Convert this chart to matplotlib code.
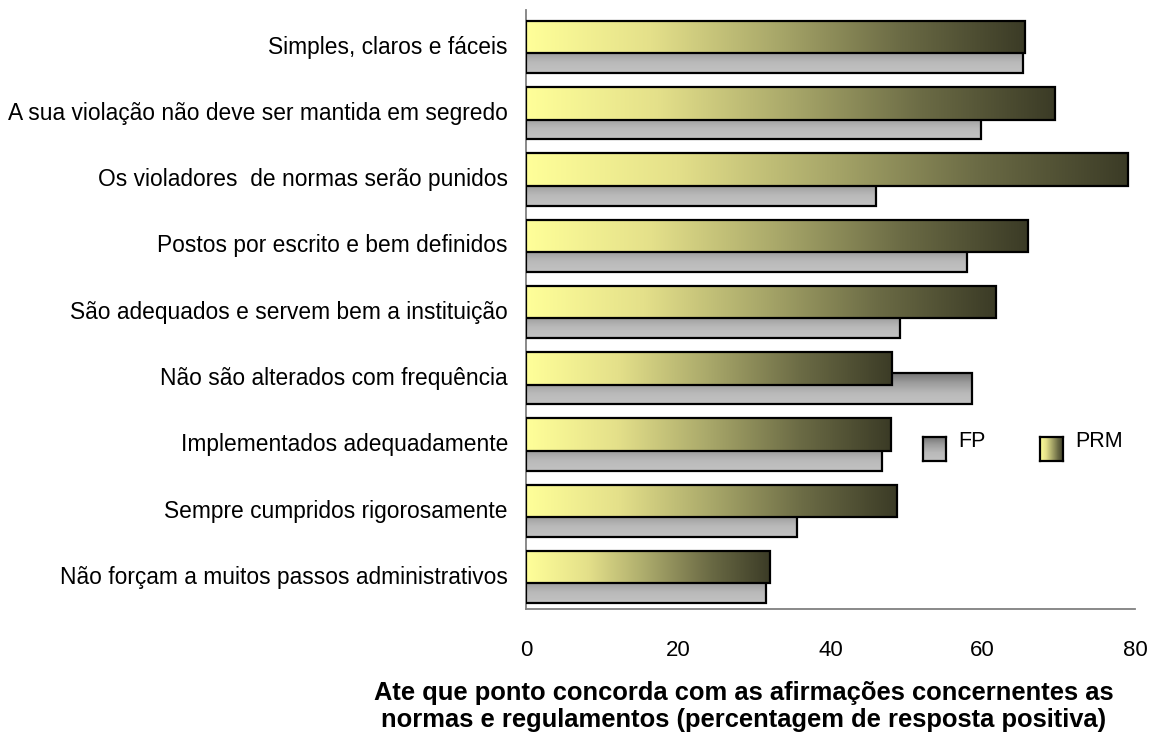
import matplotlib.pyplot as plt
import numpy as np
from matplotlib.colors import LinearSegmentedColormap

plt.rcParams['font.family'] = ['Liberation Sans', 'DejaVu Sans']

categories = [
    "Simples, claros e fáceis",
    "A sua violação não deve ser mantida em segredo",
    "Os violadores  de normas serão punidos",
    "Postos por escrito e bem definidos",
    "São adequados e servem bem a instituição",
    "Não são alterados com frequência",
    "Implementados adequadamente",
    "Sempre cumpridos rigorosamente",
    "Não forçam a muitos passos administrativos",
]
prm = [65.5, 69.5, 79.1, 65.9, 61.7, 48.1, 47.9, 48.7, 32.1]
fp = [65.3, 59.8, 46.0, 57.9, 49.1, 58.6, 46.8, 35.6, 31.5]
xticks = [0, 20, 40, 60, 80]

prm_cmap = LinearSegmentedColormap.from_list(
    "prm", ["#ffff99", "#e4e08a", "#a9a86a", "#6b6b45", "#3b3b26"])
fp_cmap = LinearSegmentedColormap.from_list(
    "fp", ["#707070", "#9c9c9c", "#bababa", "#c2c2c2"])

h_grad = np.linspace(0, 1, 256).reshape(1, -1)
v_grad = np.linspace(0, 1, 256).reshape(-1, 1)


def fill_gradient(ax, bars, cmap, grad, z):
    # paint each bar with its own gradient image, clipped to the bar
    for b in bars:
        x0, y0 = b.get_x(), b.get_y()
        w, h = b.get_width(), b.get_height()
        im = ax.imshow(grad, cmap=cmap, aspect='auto', interpolation='bicubic',
                       extent=(x0, x0 + w, y0 + h, y0), zorder=z)
        im.set_clip_path(b)


fig = plt.figure(figsize=(11.51, 7.34), dpi=100)
ax = fig.add_axes([0.457, 0.170, 0.529, 0.816])

y = np.arange(len(categories))
fp_bars = ax.barh(y + 0.19, fp, height=0.48, facecolor='none',
                  edgecolor='black', linewidth=1.6, zorder=3)
fill_gradient(ax, fp_bars, fp_cmap, v_grad, 2)
prm_bars = ax.barh(y - 0.115, prm, height=0.49, facecolor='none',
                   edgecolor='black', linewidth=1.6, zorder=5)
# white backing so the PRM bar hides the FP bar behind it
for b in prm_bars:
    ax.add_patch(plt.Rectangle((b.get_x(), b.get_y()), b.get_width(), b.get_height(),
                               facecolor='white', edgecolor='none', zorder=3.5))
fill_gradient(ax, prm_bars, prm_cmap, h_grad, 4)

ax.set_xlim(0, 80)
ax.set_ylim(8.52, -0.52)
ax.set_xticks(xticks)
ax.set_yticks(y)
ax.set_yticklabels(categories, fontsize=16.4)
ax.tick_params(axis='y', length=0, pad=13)
ax.tick_params(axis='x', length=0, pad=22, labelsize=16)
for s in ['top', 'right']:
    ax.spines[s].set_visible(False)
for s in ['left', 'bottom']:
    ax.spines[s].set_color('#808080')
    ax.spines[s].set_linewidth(1.3)

# legend squares
for left, cmap, grad, name in [(0.802, fp_cmap, v_grad, "FP"),
                               (0.9036, prm_cmap, h_grad, "PRM")]:
    lax = fig.add_axes([left, 0.372, 0.020, 0.0327])
    lax.imshow(grad, cmap=cmap, aspect='auto')
    lax.set_xticks([])
    lax.set_yticks([])
    for sp in lax.spines.values():
        sp.set_linewidth(1.6)
    fig.text(left + 0.0305, 0.391, name, fontsize=15.5, va='baseline')

fig.text(0.646, 0.037,
         "Ate que ponto concorda com as afirmações concernentes as\n"
         "normas e regulamentos (percentagem de resposta positiva)",
         ha='center', va='center', fontsize=18.4, fontweight='bold', linespacing=1.15)

fig.savefig("out.png", dpi=100)
